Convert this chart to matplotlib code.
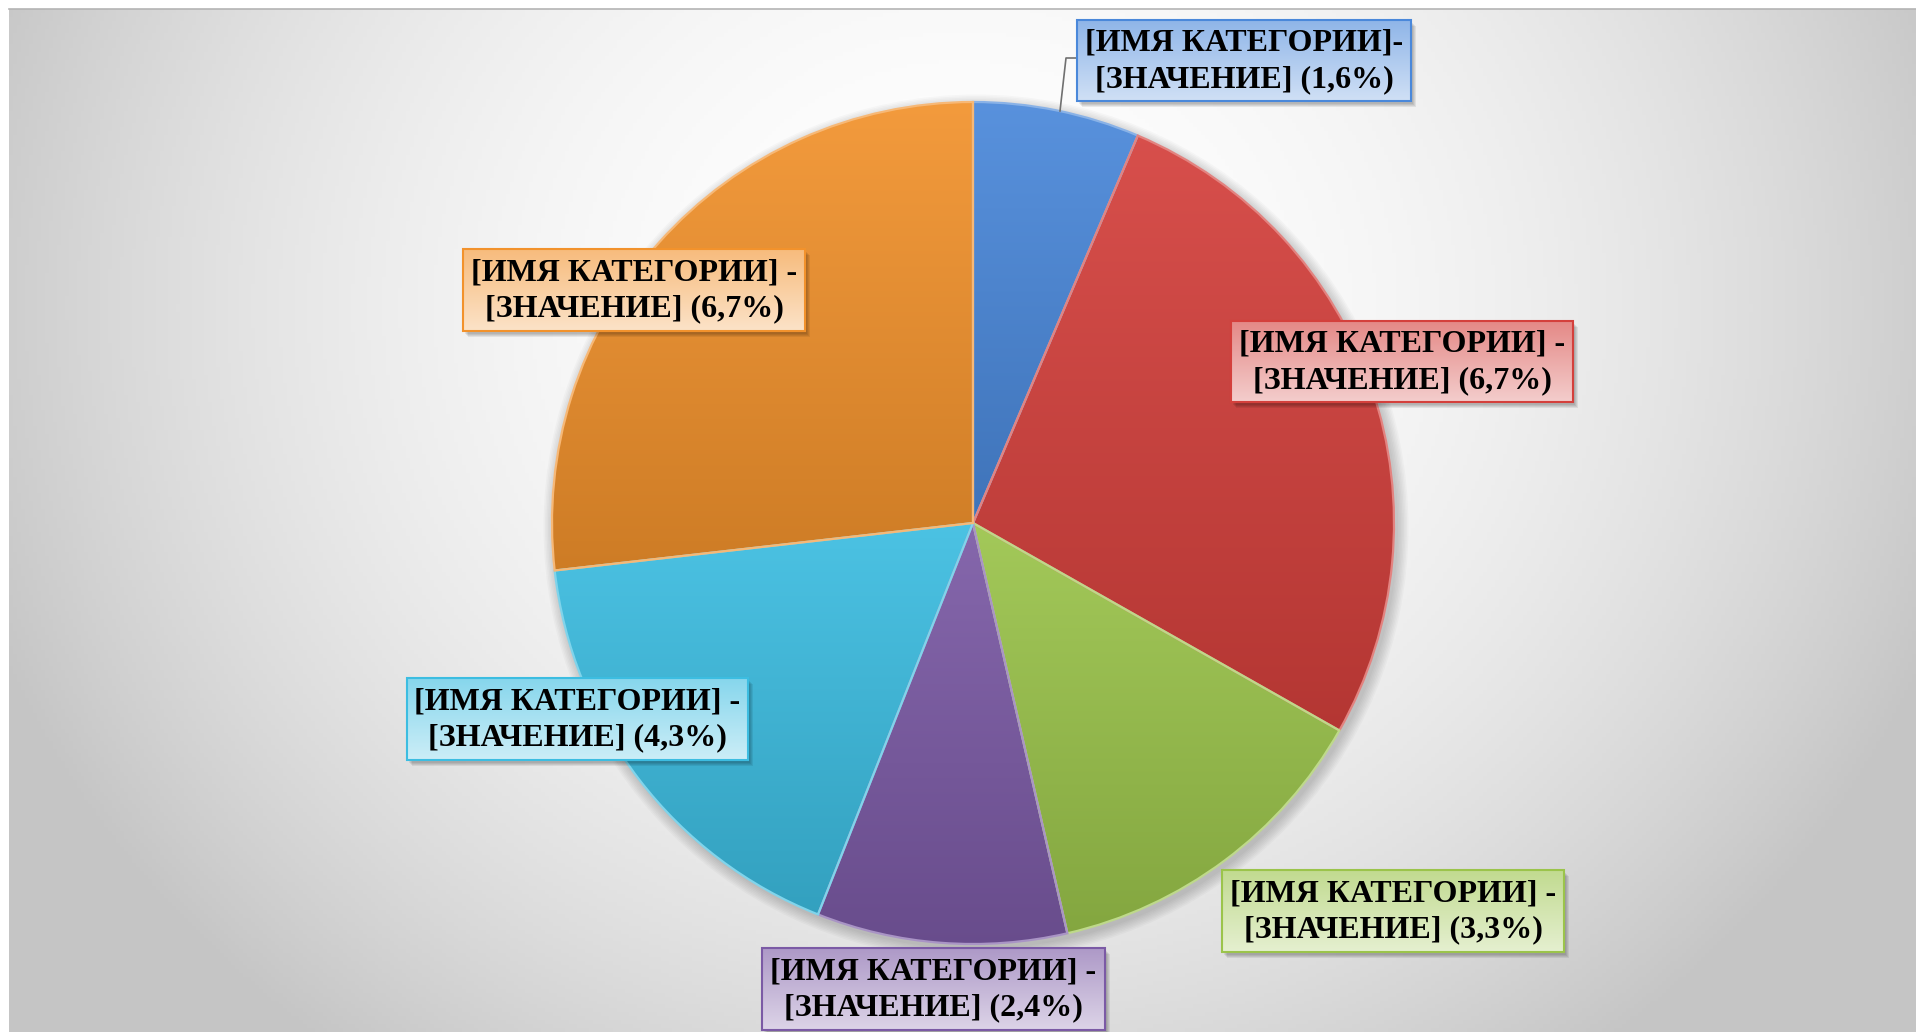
import numpy as np
import matplotlib.pyplot as plt
from matplotlib.patches import Rectangle, Circle
from matplotlib.colors import to_rgb

W, H = 1916, 1032

# chart data
categories = ["[ИМЯ КАТЕГОРИИ]"] * 6
values = [1.6, 6.7, 3.3, 2.4, 4.3, 6.7]
separators = ["-", " -", " -", " -", " -", " -"]
slice_colors = ["#4A88DA", "#D4403C", "#9BC44B", "#7B5AA5", "#3CBDE1", "#F2922C"]

# label boxes in pixel coords: left, top, right, bottom
label_boxes = [
    (1077, 20, 1411, 101),
    (1231, 321, 1573, 402),
    (1222, 870, 1564, 952),
    (762, 948, 1105, 1030),
    (407, 678, 748, 760),
    (463, 249, 805, 331),
]

PIE_CX, PIE_CY, PIE_R = 973, 523, 421


def py(y):
    return H - y


def mix(c, other, a):
    c = np.array(to_rgb(c))
    o = np.array(to_rgb(other))
    return tuple(c * (1 - a) + o * a)


def vgrad(top, bottom, n=256):
    t = np.linspace(0, 1, n)[:, None, None]
    top = np.array(top)[None, None, :]
    bottom = np.array(bottom)[None, None, :]
    return np.repeat(top * (1 - t) + bottom * t, 2, axis=1)


fig = plt.figure(figsize=(W / 100, H / 100), dpi=100)
ax = fig.add_axes([0, 0, 1, 1])
ax.set_xlim(0, W)
ax.set_ylim(0, H)
ax.axis("off")

# ── background: soft radial grey gradient ───────────────────────────────
xx, yy = np.meshgrid(np.linspace(0, W, 480), np.linspace(0, H, 260))
r = np.sqrt(((xx - 960) / 1050) ** 2 + ((yy - 300) / 950) ** 2)
g = (255 - 58 * np.clip(r, 0, 1) ** 2) / 255
bg = np.dstack([g, g, g])
ax.imshow(bg, extent=(9, W, py(H), py(9)), origin="upper", aspect="auto", zorder=0)
ax.plot([9, W], [py(9), py(9)], color="#B4B4B4", lw=1.2, zorder=1)

# ── soft shadow under the pie ────────────────────────────────────────────
for k in range(8):
    ax.add_patch(Circle((PIE_CX + 3, py(PIE_CY + 4)), PIE_R + 1 + k * 1.5,
                        facecolor="black", edgecolor="none", alpha=0.025, zorder=2))

# ── pie ──────────────────────────────────────────────────────────────────
wedges, _ = ax.pie(values, colors=slice_colors, startangle=90, counterclock=False,
                   center=(PIE_CX, py(PIE_CY)), radius=PIE_R, frame=True,
                   wedgeprops=dict(linewidth=0))
ax.set_xlim(0, W)
ax.set_ylim(0, H)
ax.set_aspect("equal")
ax.axis("off")

for w, col in zip(wedges, slice_colors):
    ext = w.get_path().get_extents()
    img = vgrad(mix(col, "white", 0.08), tuple(np.array(to_rgb(col)) * 0.85))
    im = ax.imshow(img, extent=(ext.x0, ext.x1, ext.y0, ext.y1), origin="upper",
                   aspect="auto", zorder=4)
    im.set_clip_path(w)
    w.set_facecolor("none")
    w.set_edgecolor(mix(col, "white", 0.35))
    w.set_linewidth(1.6)
    w.set_zorder(5)

# leader line for the small slice
ax.plot([1076, 1066, 1060], [py(58), py(58), py(111)], color="#707070", lw=1.2, zorder=6)

# ── labels ───────────────────────────────────────────────────────────────
for cat, val, sep, col, (x0, y0, x1, y1) in zip(categories, values, separators,
                                                 slice_colors, label_boxes):
    bw, bh = x1 - x0, y1 - y0
    for k in range(4):
        ax.add_patch(Rectangle((x0 + 2 + k, py(y1) - 3 - k), bw, bh, facecolor="black",
                               edgecolor="none", alpha=0.07, zorder=7))
    ax.imshow(vgrad(mix(col, "white", 0.38), mix(col, "white", 0.74)),
              extent=(x0, x1, py(y1), py(y0)), origin="upper", aspect="auto", zorder=8)
    ax.add_patch(Rectangle((x0, py(y1)), bw, bh, facecolor="none", edgecolor=col,
                           lw=1.5, zorder=9))
    txt = f"{cat}{sep}\n[ЗНАЧЕНИЕ] ({val:.1f}%)".replace(".", ",")
    ax.text((x0 + x1) / 2, py((y0 + y1) / 2 + 1), txt, ha="center", va="center",
            fontsize=23, fontweight="bold", family="Liberation Serif",
            linespacing=1.32, color="black", zorder=10)

fig.savefig("out.png", dpi=100)
